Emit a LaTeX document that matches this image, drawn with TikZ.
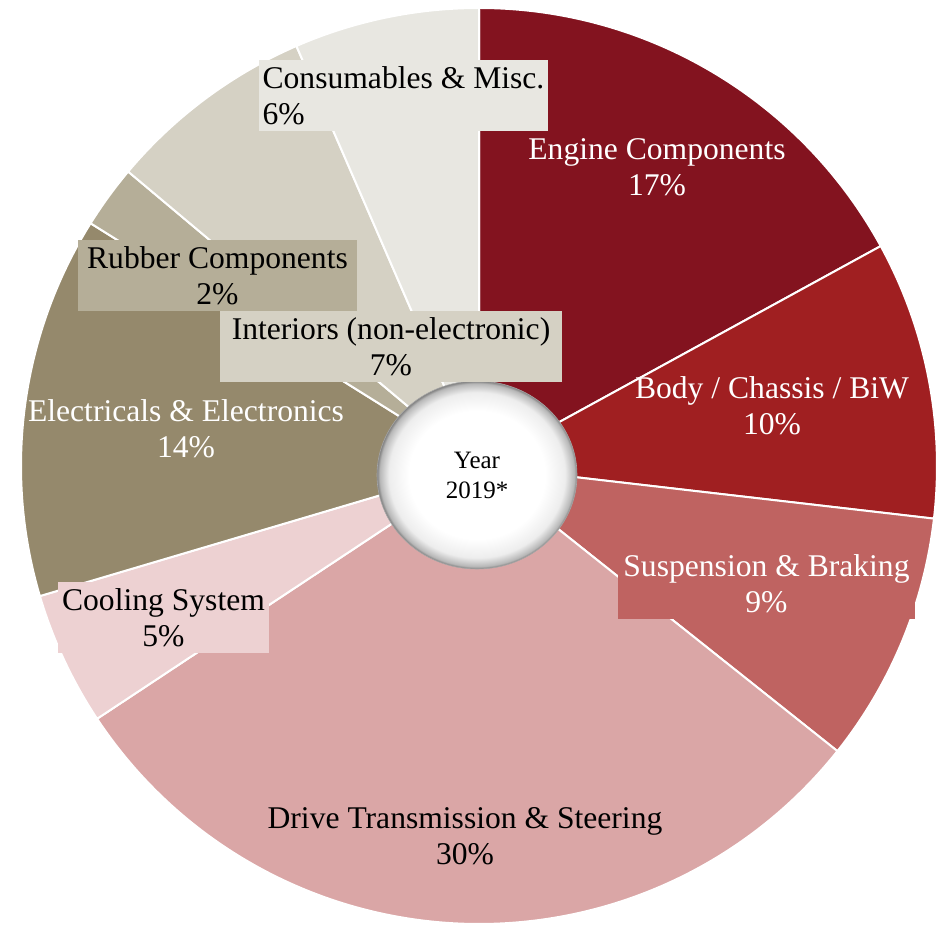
\documentclass[tikz,border=0pt]{standalone}
\usepackage{fontspec}
\setmainfont{Liberation Serif}
\usetikzlibrary{shapes}
\definecolor{engine}{HTML}{83131F}
\definecolor{body}{HTML}{A01F21}
\definecolor{susp}{HTML}{BF6361}
\definecolor{drive}{HTML}{DAA6A6}
\definecolor{cooling}{HTML}{EDD1D2}
\definecolor{elec}{HTML}{95896C}
\definecolor{rubber}{HTML}{B5AE98}
\definecolor{interior}{HTML}{D5D1C4}
\definecolor{consum}{HTML}{E8E7E1}
\pgfdeclareradialshading{rim}{\pgfpoint{0bp}{0bp}}{color(0bp)=(white); color(17bp)=(white); color(22bp)=(black!7); color(24.3bp)=(black!28); color(25bp)=(black!50); color(50bp)=(black!50)}
\tikzstyle{slice} = [draw=white, line width=1pt]
\tikzstyle{share} = [align=center, font=\fontsize{15.8}{18}\selectfont, inner sep=0pt]
\tikzstyle{sharebox} = [share, minimum height=35.5pt]

\begin{document}
\begin{tikzpicture}[x=0.5pt, y=0.5pt]
	\useasboundingbox (-479,-459) rectangle (461,466);

	\foreach \a/\b/\c in {90/28.7/engine, 28.7/-6.6/body, -6.6/-38.5/susp,
		-38.5/-146.5/drive, -146.5/-163.5/cooling, -163.5/-212/elec,
		-212/-220/rubber, -220/-246.5/interior, -246.5/-270/consum}
		\filldraw [slice, fill=\c] (0,0) -- (\a:229pt) arc (\a:\b:229pt) -- cycle;

	\node [ellipse, minimum width=100pt, minimum height=94pt, shading=rim,
		draw=black!35, line width=0.3pt, inner sep=0pt,
		font=\fontsize{12.5}{15}\selectfont, align=center] (year) at (-2,-9) {Year\\2019*};

	\node [share, text=white] (engtxt) at (178,299) {Engine Components\\17\%};
	\node [share, text=white] (bodytxt) at (293,60) {Body / Chassis / BiW\\10\%};
	\node [sharebox, fill=susp, text=white, minimum width=148.5pt] (susptxt) at (287.5,-117.5) {Suspension \& Braking\\9\%};
	\node [share] (drivetxt) at (-14,-370) {Drive Transmission \& Steering\\30\%};
	\node [sharebox, fill=cooling, minimum width=105.5pt] (cooltxt) at (-315.5,-151.5) {Cooling System\\5\%};
	\node [share, text=white] (electxt) at (-293,37) {Electricals \& Electronics\\14\%};
	\node [sharebox, fill=rubber, minimum width=139.5pt] (rubtxt) at (-261.5,190.5) {Rubber Components\\2\%};
	\node [sharebox, fill=interior, minimum width=171pt] (inttxt) at (-88,119.5) {Interiors (non-electronic)\\7\%};
	\node [sharebox, fill=consum, minimum width=144.5pt, align=left] (constxt) at (-75.5,370.5) {Consumables \& Misc.\\6\%};
\end{tikzpicture}
\end{document}
